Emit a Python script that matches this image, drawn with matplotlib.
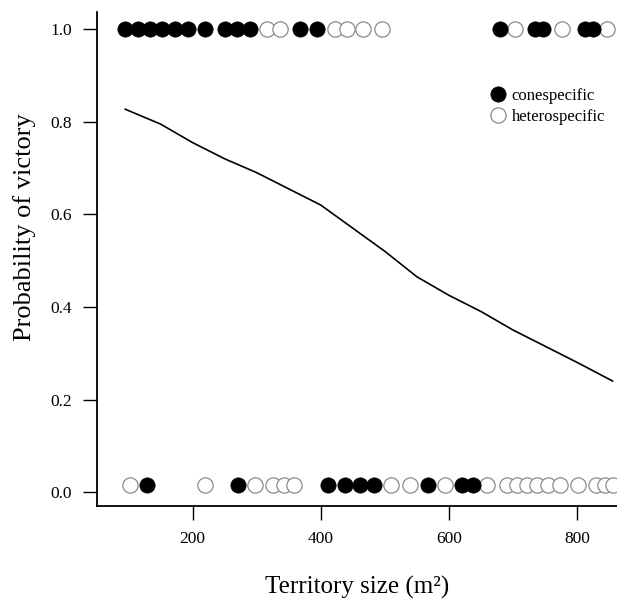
import numpy as np
import matplotlib
matplotlib.use('agg')
import matplotlib.pyplot as plt

plt.rcParams['font.family'] = ['Liberation Serif', 'DejaVu Serif']

# wins (y = 1) and losses (y ~ 0), territory size in m2
win_con = [95, 115, 134, 152, 173, 193, 219, 251, 269, 290, 368, 394,
           679, 734, 746, 812, 824]
win_het = [316, 336, 422, 441, 466, 495, 703, 776, 847]
loss_con = [129, 271, 411, 438, 461, 483, 567, 621, 637]
loss_het = [103, 219, 297, 325, 343, 358, 509, 539, 593, 660, 690, 706,
            721, 737, 754, 773, 801, 829, 843, 855]
loss_y = 0.015

# fitted curve
fit_x = [95, 150, 200, 250, 300, 350, 400, 450, 500, 550, 600, 650, 700,
         750, 800, 855]
fit_y = [0.827, 0.795, 0.755, 0.72, 0.69, 0.655, 0.62, 0.57, 0.52, 0.465,
         0.425, 0.39, 0.35, 0.315, 0.28, 0.24]

fig = plt.figure(figsize=(6.17, 6.05), dpi=100)
ax = fig.add_axes([97 / 617, 99 / 605, 520 / 617, 494 / 605])

ax.plot(fit_x, fit_y, color='black', lw=1.2)

ms = 11
ax.plot(win_het, np.ones(len(win_het)), 'o', ms=ms, mfc='white',
        mec='#8a8a8a', mew=0.9, clip_on=False)
ax.plot(loss_het, np.full(len(loss_het), loss_y), 'o', ms=ms, mfc='white',
        mec='#8a8a8a', mew=0.9, clip_on=False)
ax.plot(win_con, np.ones(len(win_con)), 'o', ms=ms, mfc='black',
        mec='black', mew=0.5, clip_on=False, label='conespecific')
ax.plot(loss_con, np.full(len(loss_con), loss_y), 'o', ms=ms, mfc='black',
        mec='black', mew=0.5, clip_on=False)
ax.plot([], [], 'o', ms=ms, mfc='white', mec='#8a8a8a', mew=0.9,
        label='heterospecific')

ax.set_xlim(51, 862)
ax.set_ylim(-0.03, 1.037)
ax.set_xticks([200, 400, 600, 800])
ax.set_yticks([0.0, 0.2, 0.4, 0.6, 0.8, 1.0])
ax.set_yticklabels(['0.0', '0.2', '0.4', '0.6', '0.8', '1.0'])

ax.spines['top'].set_visible(False)
ax.spines['right'].set_visible(False)
ax.spines['left'].set_linewidth(1.3)
ax.spines['bottom'].set_linewidth(1.3)
ax.tick_params(direction='out', length=10, width=1.0, labelsize=12.5, pad=8)

ax.set_xlabel('Territory size (m²)', fontsize=18)
ax.xaxis.set_label_coords(0.5, -0.142)
ax.set_ylabel('Probability of victory', fontsize=19)
ax.yaxis.set_label_coords(-0.118, 0.565)

ax.legend(loc='upper left', bbox_to_anchor=(0.74, 0.86), frameon=False,
          fontsize=12, handletextpad=0.2, labelspacing=0.3,
          borderaxespad=0, handlelength=1.2)

plt.savefig('out.png', dpi=100)
plt.close()
